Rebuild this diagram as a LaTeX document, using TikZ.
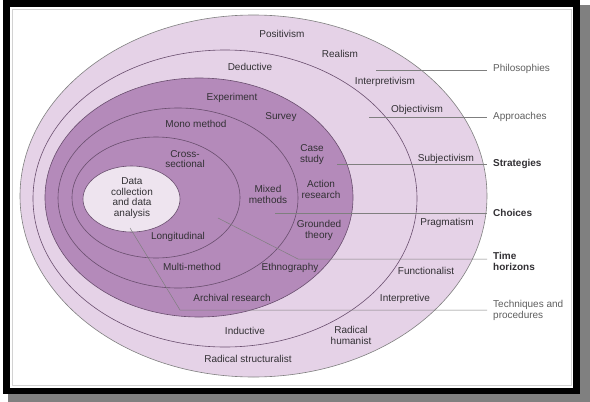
\documentclass[tikz,border=0pt]{standalone}
\usepackage{fontspec}
\setmainfont{Liberation Sans}
\usetikzlibrary{calc,positioning}
\definecolor{lilac}{RGB}{229,210,231}
\definecolor{plum}{RGB}{180,138,186}
\definecolor{pale}{RGB}{238,228,239}
\definecolor{rim}{RGB}{105,78,110}
\definecolor{ink}{RGB}{50,48,52}
\definecolor{grey}{RGB}{95,95,95}
\tikzset{
  ring/.style={draw=rim,line width=0.6pt},
  lab/.style={font=\fontsize{10}{10.5}\selectfont,text=ink,align=center,inner sep=0pt},
  side/.style={font=\fontsize{10}{10.5}\selectfont,text=grey,align=left,anchor=west,inner sep=0pt},
  sideb/.style={side,text=ink,font=\fontsize{10}{10.5}\selectfont\bfseries},
  lead/.style={draw=grey!80,line width=0.5pt},
}

\begin{document}
\begin{tikzpicture}[x=1pt,y=-1pt]
  \useasboundingbox (0,0) rectangle (590,402);
  % frame
  \fill[black!50] (580,5) rectangle (590,402);
  \fill[black!50] (8,394) rectangle (590,402);
  \fill[black] (3,0) rectangle (580,394);
  \fill[white] (10,7) rectangle (573,388);
  \draw[gray!35] (12,9) rectangle (571,385);

  % rings, outside in
  \filldraw[fill=lilac,draw=gray,line width=0.6pt] (253.5,196) ellipse [x radius=233.5pt,y radius=181pt];
  \filldraw[ring,fill=lilac] (225,198.5) ellipse [x radius=192pt,y radius=148.5pt];
  \filldraw[ring,fill=plum] (199,197.5) ellipse [x radius=154pt,y radius=119.5pt];
  \filldraw[ring,fill=plum] (178,198) ellipse [x radius=120pt,y radius=90pt];
  \filldraw[ring,fill=plum] (156,197.5) ellipse [x radius=84pt,y radius=60.5pt];
  \filldraw[ring,fill=pale] (131.5,199) ellipse [x radius=48.5pt,y radius=33pt];

  % philosophies
  \node[lab] (pPos) at (282,34) {Positivism};
  \node[lab] (pRea) at (340,54) {Realism};
  \node[lab] (pInt) at (385,82) {Interpretivism};
  \node[lab] (pObj) at (417,110) {Objectivism};
  \node[lab] (pSub) at (446,159) {Subjectivism};
  \node[lab] (pPra) at (447,223) {Pragmatism};
  \node[lab] (pFun) at (426,271) {Functionalist};
  \node[lab] (pIpr) at (405,299) {Interpretive};
  \node[lab] (pRhu) at (351,335.5) {Radical\\humanist};
  \node[lab] (pRst) at (248,359) {Radical structuralist};
  % approaches
  \node[lab] (aDed) at (250,67) {Deductive};
  \node[lab] (aInd) at (245,331) {Inductive};
  % strategies
  \node[lab] (sExp) at (232,98) {Experiment};
  \node[lab] (sSur) at (281,117) {Survey};
  \node[lab] (sCas) at (312,154.5) {Case\\study};
  \node[lab] (sAct) at (321,189.5) {Action\\research};
  \node[lab] (sGro) at (319,230.5) {Grounded\\theory};
  \node[lab] (sEth) at (290,268) {Ethnography};
  \node[lab] (sArc) at (232,298) {Archival research};
  % choices
  \node[lab] (cMon) at (196,124) {Mono method};
  \node[lab] (cMix) at (268,194.5) {Mixed\\methods};
  \node[lab] (cMul) at (192,267) {Multi-method};
  % time horizons
  \node[lab] (hCro) at (185,159) {Cross-\\sectional};
  \node[lab] (hLon) at (178,237) {Longitudinal};
  % core
  \node[lab] (core) at (132,198) {Data\\collection\\and data\\analysis};

  % side labels
  \node[side]  (lPhi) at (493,69)  {Philosophies};
  \node[side]  (lApp) at (493,117) {Approaches};
  \node[sideb] (lStr) at (493,164) {Strategies};
  \node[sideb] (lCho) at (493,213) {Choices};
  \node[sideb] (lTim) at (493,261.5) {Time\\horizons};
  \node[side]  (lTec) at (493,310.5) {Techniques and\\procedures};

  % leaders
  \coordinate (aPhi) at (376,70);
  \coordinate (aApp) at (369,117);
  \coordinate (aStr) at (337,164);
  \coordinate (aCho) at (275,213);
  \coordinate (aTim) at (218,218);
  \coordinate (bTim) at (298,259);
  \coordinate (aTec) at (130,228);
  \coordinate (bTec) at (180,310);
  \draw[lead,shorten >=6pt] (aPhi) -- (aPhi -| lPhi.west);
  \draw[lead,shorten >=6pt] (aApp) -- (aApp -| lApp.west);
  \draw[lead,shorten >=6pt] (aStr) -- (aStr -| lStr.west);
  \draw[lead,shorten >=6pt] (aCho) -- (aCho -| lCho.west);
  \draw[lead,shorten >=6pt] (aTim) -- (bTim) -- (bTim -| lTim.west);
  \draw[lead,shorten >=6pt] (aTec) -- (bTec) -- (bTec -| lTec.west);
\end{tikzpicture}
\end{document}
